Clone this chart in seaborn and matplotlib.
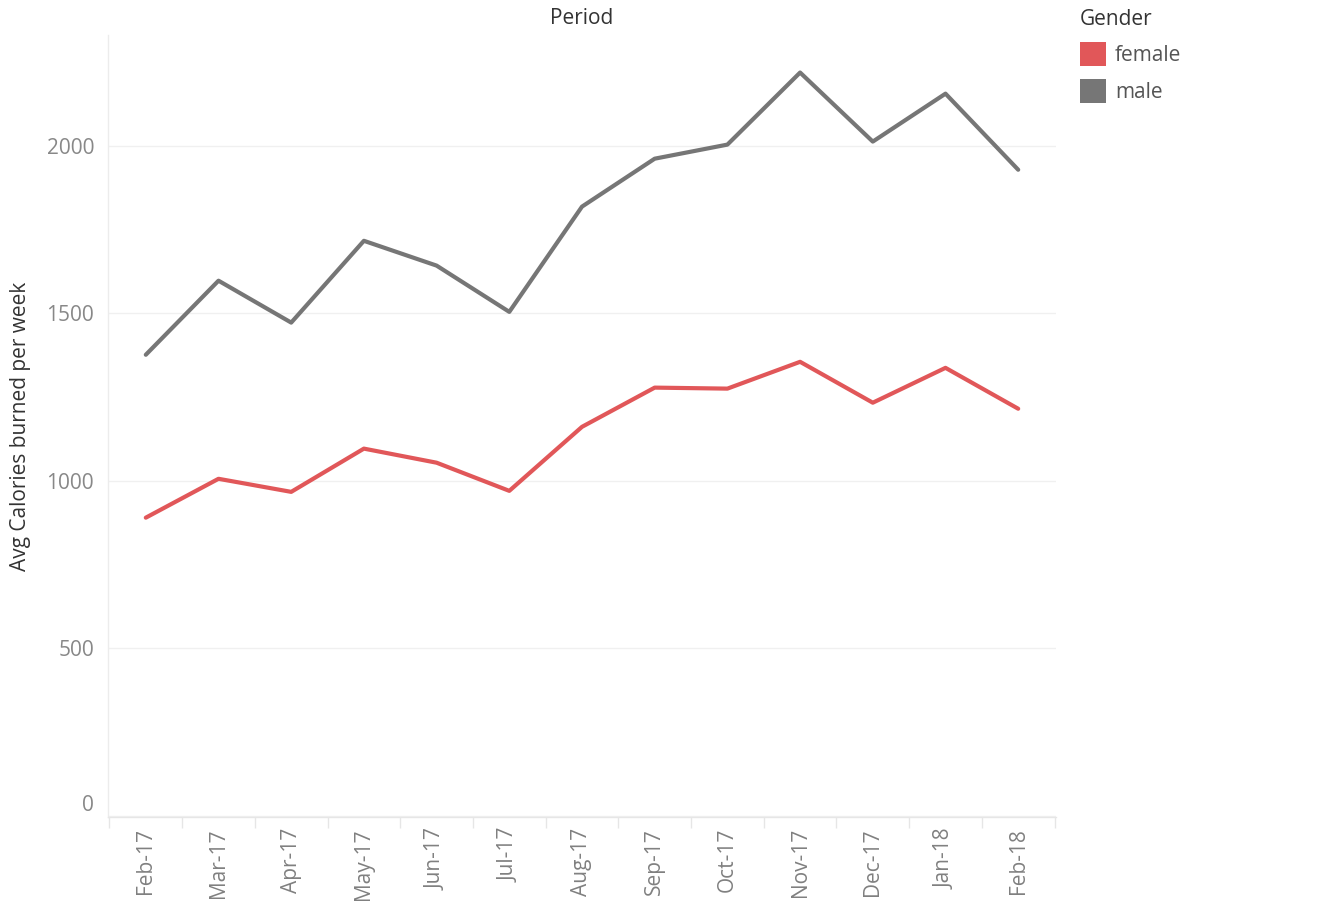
import matplotlib
matplotlib.use("Agg")
import matplotlib.pyplot as plt
import seaborn as sns
import pandas as pd
from matplotlib.patches import Patch
from matplotlib.ticker import FixedLocator

periods = ["Feb-17", "Mar-17", "Apr-17", "May-17", "Jun-17", "Jul-17", "Aug-17",
           "Sep-17", "Oct-17", "Nov-17", "Dec-17", "Jan-18", "Feb-18"]
female = [890, 1006, 967, 1096, 1054, 970, 1161, 1278, 1275, 1355, 1233, 1337, 1215]
male = [1376, 1597, 1472, 1716, 1642, 1504, 1818, 1961, 2003, 2218, 2012, 2155, 1928]
genders = ["female", "male"]
colors = {"female": "#e15759", "male": "#767676"}
yticks = [0, 500, 1000, 1500, 2000]

df = pd.DataFrame({
    "Period": periods * 2,
    "Calories": female + male,
    "Gender": ["female"] * len(periods) + ["male"] * len(periods),
})
df["idx"] = list(range(len(periods))) * 2

sns.set_theme(style="white")
plt.rcParams["font.family"] = ["Open Sans", "DejaVu Sans"]

FS = 15
fig = plt.figure(figsize=(13.2, 9.16), dpi=100)
ax = fig.add_axes([108 / 1320, 1 - 817 / 916, (1056 - 108) / 1320, (817 - 35) / 916])

sns.lineplot(data=df, x="idx", y="Calories", hue="Gender", hue_order=genders,
             palette=colors, linewidth=3.0, ax=ax, legend=False, sort=False)

ax.set_xlim(-0.52, len(periods) - 0.48)
ax.set_ylim(-3, 2330)
ax.set_xticks(range(len(periods)))
ax.set_xticklabels(periods, rotation=90, fontsize=FS, color="#808080")
ax.xaxis.set_minor_locator(FixedLocator([i + 0.5 for i in range(-1, len(periods))]))
ax.tick_params(axis="x", which="major", length=0, pad=8)
ax.tick_params(axis="x", which="minor", length=8, color="#e6e6e6", width=1, bottom=True)

ax.set_yticks(yticks)
ax.set_yticklabels([str(v) for v in yticks], fontsize=FS, color="#888888")
ax.tick_params(axis="y", length=0, pad=10)
for lbl in ax.get_yticklabels():
    if lbl.get_text() == "0":
        lbl.set_va("bottom")
ax.yaxis.grid(True, color="#f0f0f0", linewidth=1)
ax.xaxis.grid(False)
ax.set_axisbelow(True)

for s in ["top", "right"]:
    ax.spines[s].set_visible(False)
ax.spines["left"].set_color("#ececec")
ax.spines["bottom"].set_color("#e6e6e6")
ax.spines["left"].set_linewidth(1)
ax.spines["bottom"].set_linewidth(1)

ax.set_xlabel("")
ax.set_ylabel("Avg Calories burned per week", fontsize=FS, color="#333333")
ax.yaxis.set_label_coords((31 - 108) / 948, 0.5)
fig.text(582 / 1320, 1 - 18 / 916, "Period", ha="center", va="center",
         fontsize=FS, color="#333333")

handles = [Patch(facecolor=colors[g], edgecolor="none", label=g) for g in genders]
leg = fig.legend(handles=handles, title="Gender", loc="upper left",
                 bbox_to_anchor=(1061 / 1320, 1 + 10 / 916), frameon=False,
                 fontsize=FS, title_fontsize=FS, handlelength=1.25,
                 handleheight=1.4, handletextpad=0.45, labelspacing=0.6,
                 alignment="left")
for t in leg.get_texts():
    t.set_color("#555555")
leg.get_title().set_color("#333333")

fig.savefig("out.png", dpi=100)
